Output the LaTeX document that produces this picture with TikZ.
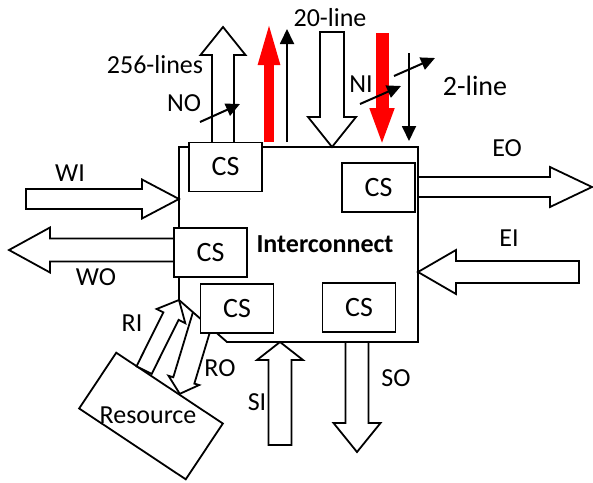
\documentclass[tikz,border=0pt]{standalone}
\usepackage{fontspec}
\setmainfont{Carlito}
\usetikzlibrary{arrows.meta,calc}
\definecolor{cBus}{RGB}{255,0,0}

\begin{document}
\begin{tikzpicture}[
  x=1pt, y=-1pt,
  font=\fontsize{26}{30}\selectfont,
  frame/.style={draw=black, fill=white, line width=1.8pt},
  csbox/.style={draw=black, fill=white, line width=1.8pt, minimum width=73pt,
    minimum height=49pt, inner sep=0pt, font=\fontsize{28}{30}\selectfont},
  lbl/.style={inner sep=0pt},
  blk/.style n args={3}{draw=black, fill=white, line width=1.8pt, to path={
    ($(\tikztostart)!#1!90:(\tikztotarget)$)
    -- ($($(\tikztotarget)!#3!(\tikztostart)$)!#1!90:(\tikztotarget)$)
    -- ($($(\tikztotarget)!#3!(\tikztostart)$)!#2!90:(\tikztotarget)$)
    -- (\tikztotarget)
    -- ($($(\tikztotarget)!#3!(\tikztostart)$)!#2!-90:(\tikztotarget)$)
    -- ($($(\tikztotarget)!#3!(\tikztostart)$)!#1!-90:(\tikztotarget)$)
    -- ($(\tikztostart)!#1!-90:(\tikztotarget)$) -- cycle}},
  bus/.style={draw=cBus, line width=10pt},
  ctl/.style={line width=1.8pt, -{Triangle[length=15pt,width=14pt]}},
  slash/.style={line width=2pt, -{Triangle[length=14pt,width=13pt]}},
]
\useasboundingbox (0,0) rectangle (593,482);

% Resource block
\node[frame, rotate=-33.6, minimum width=128pt, minimum height=67pt] (res) at (151,416) {};
\coordinate (riS) at ($(res.north west)!0.26!(res.north east)$);
\coordinate (roT) at ($(res.north west)!0.59!(res.north east)$);
\coordinate (roS) at (206,307);
\draw[blk={11pt}{16pt}{14pt}] (roS) to (roT);

% Interconnect frame
\coordinate (icnNW) at (179,147);
\coordinate (icnNE) at (418,147);
\coordinate (icnSE) at (418,342);
\coordinate (icnSC) at (227,342);
\coordinate (icnCh) at (179,300);
\draw[frame] (icnNW) -- (icnNE) -- (icnSE) -- (icnSC) -- (icnCh) -- cycle;
\node[font=\fontsize{26}{30}\selectfont\bfseries] (icn) at (325,244) {Interconnect};

% Port arrows
\coordinate (wiS) at (26,199);  \coordinate (wiT) at (179,199);
\coordinate (woS) at (176,250); \coordinate (woT) at (9,250);
\coordinate (eoS) at (418,187); \coordinate (eoT) at (592,187);
\coordinate (eiS) at (579,272); \coordinate (eiT) at (418,272);
\coordinate (soS) at (357,342); \coordinate (soT) at (357,452);
\coordinate (siS) at (280,445); \coordinate (siT) at (280,342);
\coordinate (noS) at (223,144); \coordinate (noT) at (223,27);
\coordinate (niS) at (332,32);  \coordinate (niT) at (332,147);
\draw[blk={10pt}{19.5pt}{37pt}] (wiS) to (wiT);
\draw[blk={11.5pt}{22.5pt}{41pt}] (woS) to (woT);
\draw[blk={10pt}{20pt}{42pt}] (eoS) to (eoT);
\draw[blk={11pt}{22pt}{38pt}] (eiS) to (eiT);
\draw[blk={11.5pt}{23.5pt}{29pt}] (soS) to (soT);
\draw[blk={11.5pt}{23pt}{18pt}] (siS) to (siT);
\draw[blk={11pt}{22.5pt}{28pt}] (noS) to (noT);
\draw[blk={12pt}{24pt}{30pt}] (niS) to (niT);
\draw[blk={8.5pt}{16pt}{18pt}] (riS) to (icnCh);

% Channel switches
\node[csbox] (csNO) at (225.5,167) {CS};
\node[csbox] (csEO) at (378.5,187.5) {CS};
\node[csbox] (csWO) at (210.5,252.5) {CS};
\node[csbox] (csRO) at (237,308.5) {CS};
\node[csbox] (csSO) at (359,307.5) {CS};

% Control lines
\coordinate (reqB) at (269,142); \coordinate (reqT) at (269,19);
\coordinate (ackT) at (382,33);  \coordinate (ackB) at (382,146);
\draw[bus, -{Triangle[length=46pt,width=19pt]}] (reqB) -- (reqT);
\draw[bus, line width=13pt, -{Triangle[length=38pt,width=22pt]}] (ackT) -- (ackB);
\coordinate (upB) at (287,142); \coordinate (upT) at (287,29);
\coordinate (dnT) at (409,53);  \coordinate (dnB) at (409,141);
\draw[ctl] (upB) -- (upT);
\draw[ctl] (dnT) -- (dnB);

% Bus width markers
\coordinate (s1a) at (200,122); \coordinate (s1b) at (240,104);
\coordinate (s2a) at (360,104); \coordinate (s2b) at (401,86);
\coordinate (s3a) at (394,76);  \coordinate (s3b) at (435,58);
\draw[slash] (s1a) -- (s1b);
\draw[slash] (s2a) -- (s2b);
\draw[slash] (s3a) -- (s3b);

% Labels
\node[lbl] (l256) at (155,65) {256-lines};
\node[lbl] (lNO) at (184,103) {NO};
\node[lbl] (l20) at (330,18) {20-line};
\node[lbl] (lNI) at (361,84) {NI};
\node[lbl, font=\fontsize{28}{30}\selectfont] (l2) at (475,86) {2-line};
\node[lbl] (lWI) at (70,173) {WI};
\node[lbl] (lWO) at (96,277) {WO};
\node[lbl] (lEO) at (507,148) {EO};
\node[lbl] (lEI) at (509,238) {EI};
\node[lbl] (lSO) at (396,378) {SO};
\node[lbl] (lSI) at (257,402) {SI};
\node[lbl] (lRI) at (132,323) {RI};
\node[lbl] (lRO) at (220,368) {RO};
\node[lbl] (lRes) at (148,415) {Resource};

\end{tikzpicture}
\end{document}
